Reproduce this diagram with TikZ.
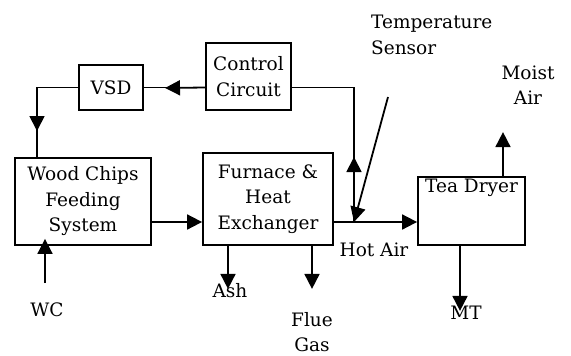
\documentclass[tikz,border=0pt]{standalone}
\usepackage{fontspec}
\setmainfont{DejaVu Serif}
\usetikzlibrary{arrows.meta}
\begin{document}
\begin{tikzpicture}[
	x=1pt,y=-1pt,
	font=\fontsize{18.5}{25.5}\selectfont,
	block/.style={draw,line width=1.8pt,inner sep=0pt,align=center},
	wire/.style={line width=1.8pt},
	flow/.style={line width=1.8pt,-{Triangle[length=15pt,width=15pt]}}
]
	\useasboundingbox (0,0) rectangle (571,356);

	\node[block,minimum width=64pt,minimum height=45pt] at (111,87.5) (vsd) {VSD};
	\node[block,minimum width=85pt,minimum height=67pt] at (248.5,76.5) (cc) {Control\\Circuit};
	\node[block,minimum width=136pt,minimum height=87pt] at (83,201.5) (wcfs) {Wood Chips\\Feeding\\System};
	\node[block,minimum width=130pt,minimum height=92pt] at (268,199) (fhe) {Furnace \&\\Heat\\Exchanger};
	\node[block,minimum width=107pt,minimum height=68pt,label={[anchor=north,inner sep=3pt]north:Tea Dryer}] at (471.5,211) (td) {};

	\node at (47,310) (wc) {WC};
	\node at (230,291) (ash) {Ash};
	\node[align=center] at (312,332) (flue) {Flue\\Gas};
	\node at (466,313) (mt) {MT};
	\node at (374,250) (hot) {Hot Air};
	\node[align=center] at (528,85) (moist) {Moist\\Air};
	\node[anchor=west,align=left,inner sep=0pt] at (371,35) (temp) {Temperature\\Sensor};

	\coordinate (feed) at (0,222);
	\coordinate (jn) at (354,222);
	\coordinate (probe) at (388,97);
	\coordinate (ccmid) at (165,88);
	\coordinate (vsdmid) at (37,131);
	\coordinate (upmid) at (354,157);

	\draw[wire] (cc.west |- vsd) -- (vsd.east);
	\draw[flow] (cc.west |- vsd) -- (ccmid);
	\draw[wire] (vsd.west) -| (vsdmid |- wcfs.north);
	\draw[flow] (vsd.west) -| (vsdmid);
	\draw[wire] (cc.east |- vsd) -| (jn);
	\draw[flow] (jn) -- (upmid);
	\draw[flow] (probe) -- (jn);

	\draw[flow] (wcfs.east |- feed) -- (fhe.west |- feed);
	\draw[flow] (fhe.east |- feed) -- (td.west |- feed);

	\draw[flow] ([xshift=-2pt,yshift=27pt]wc.center) -- ([xshift=-38pt,yshift=7pt]wcfs.south);
	\draw[flow] ([xshift=-40pt]fhe.south) -- ++(0,43);
	\draw[flow] ([xshift=44pt]fhe.south) -- ++(0,43);
	\draw[flow] ([xshift=-11.5pt]td.south) -- ++(0,65);
	\draw[flow] ([xshift=31.5pt]td.north) -- ++(0,-44);

\end{tikzpicture}
\end{document}
